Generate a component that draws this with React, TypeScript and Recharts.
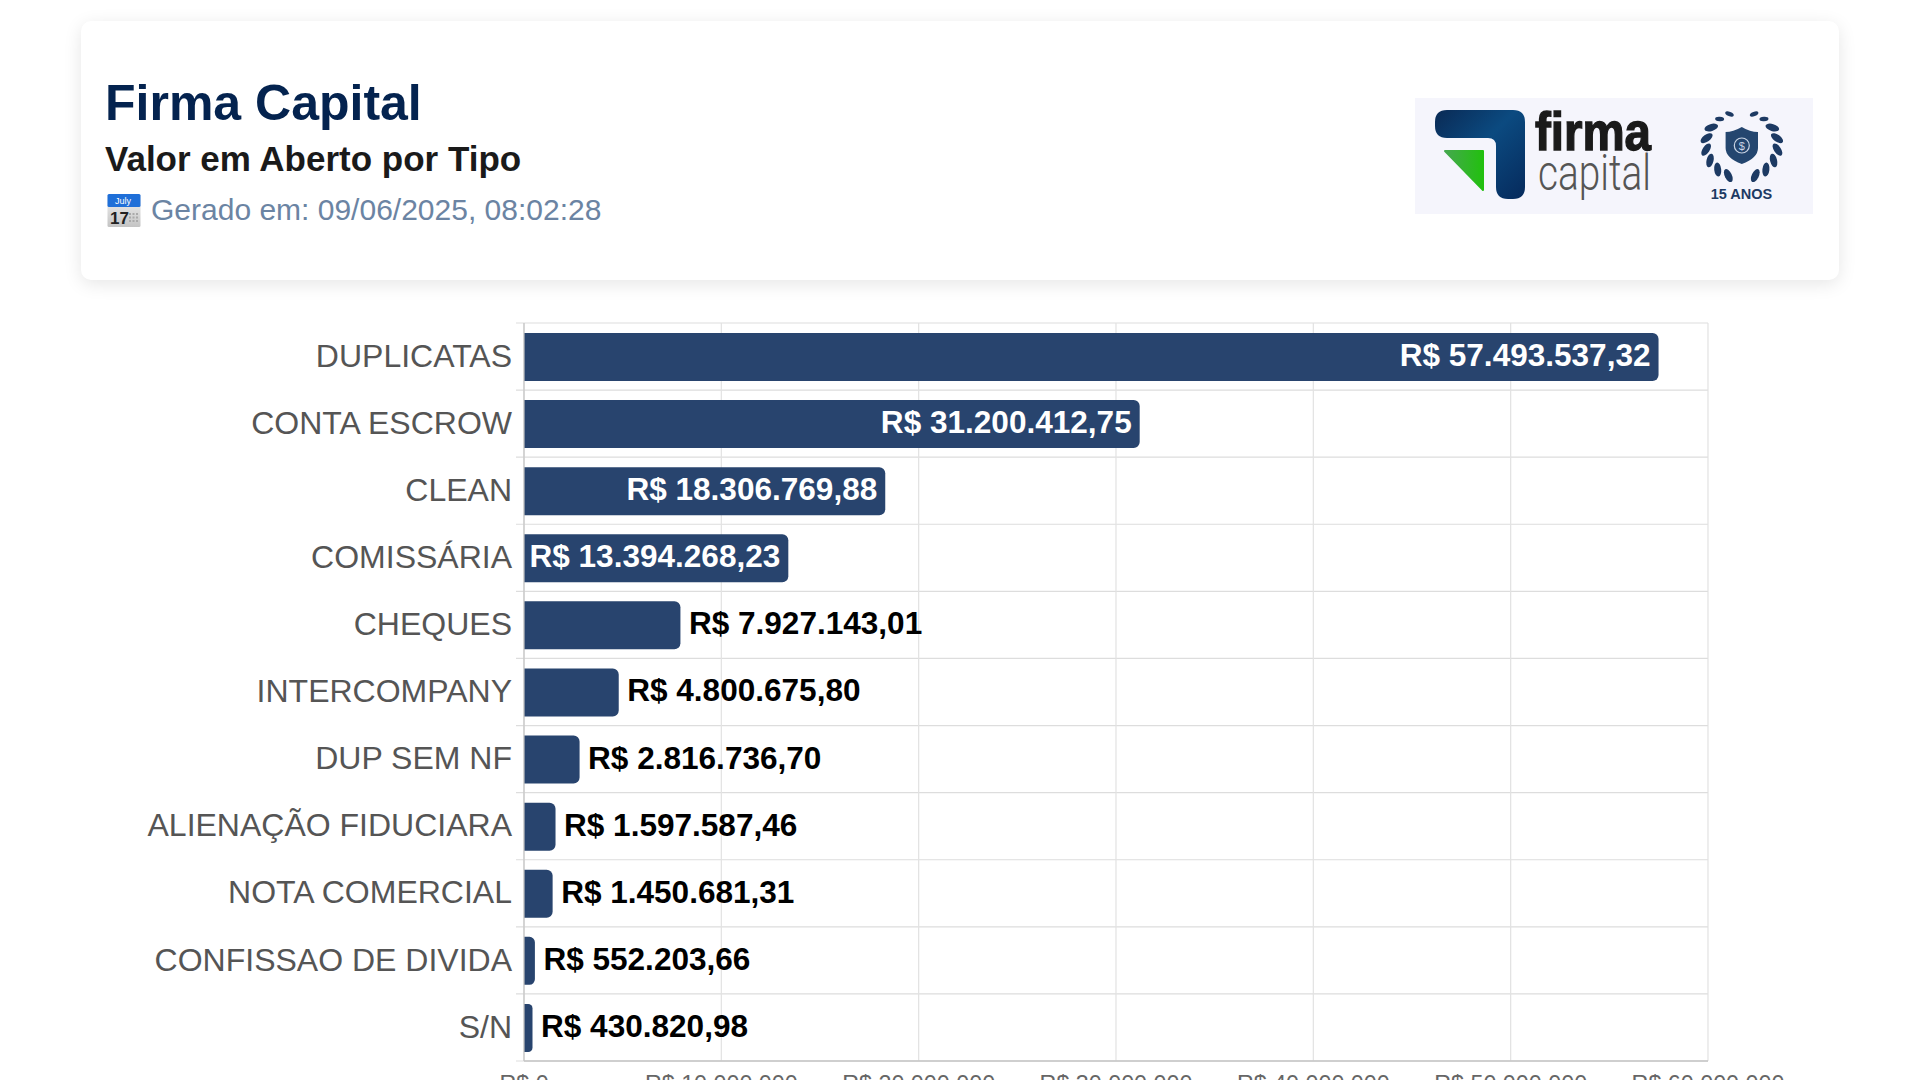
import React from 'react';
import { BarChart, Bar, XAxis, YAxis, CartesianGrid, LabelList } from 'recharts';

const categorias = [
  'DUPLICATAS',
  'CONTA ESCROW',
  'CLEAN',
  'COMISSÁRIA',
  'CHEQUES',
  'INTERCOMPANY',
  'DUP SEM NF',
  'ALIENAÇÃO FIDUCIARA',
  'NOTA COMERCIAL',
  'CONFISSAO DE DIVIDA',
  'S/N',
];
const valores = [
  57493537.32, 31200412.75, 18306769.88, 13394268.23, 7927143.01, 4800675.8, 2816736.7, 1597587.46, 1450681.31,
  552203.66, 430820.98,
];
const ticksX = [0, 10000000, 20000000, 30000000, 40000000, 50000000, 60000000];

const dados = categorias.map((tipo, i) => ({ tipo, valor: valores[i] }));

const FONTE = '"Liberation Sans", Arial, sans-serif';
const AZUL = '#28446e';

const milhar = (s: string) => s.replace(/\B(?=(\d{3})+(?!\d))/g, '.');
const formataEixo = (v: number) => `R$ ${milhar(String(v))}`;
const formataValor = (v: number) => {
  const [int, dec] = v.toFixed(2).split('.');
  return `R$ ${milhar(int)},${dec}`;
};

// barras grandes levam o rótulo por dentro, as pequenas por fora
const RotuloValor = (props: any) => {
  const { x, y, width, height, value } = props;
  const dentro = value > 10000000;
  return (
    <text
      x={dentro ? x + width - 8 : x + width + 8.5}
      y={y + height / 2 + 9}
      textAnchor={dentro ? 'end' : 'start'}
      fontFamily={FONTE}
      fontSize={31.55}
      fontWeight={700}
      fill={dentro ? '#ffffff' : '#000000'}
    >
      {formataValor(value)}
    </text>
  );
};

// linhas horizontais nos limites das categorias, com a marca à esquerda do eixo
const linhaHorizontal = (props: any) => (
  <line key={props.key} x1={props.x1 - 8} x2={props.x2} y1={props.y1} y2={props.y2} stroke="#dddddd" strokeWidth={1.2} />
);

const Calendario = () => (
  <svg width={34} height={34} style={{ position: 'absolute', left: 107, top: 194 }}>
    <defs>
      <linearGradient id="cinzaCal" x1="0" y1="0" x2="0" y2="1">
        <stop offset="0" stopColor="#f4f4f4" />
        <stop offset="1" stopColor="#c4c4c4" />
      </linearGradient>
    </defs>
    <rect x={0.5} y={0} width={33} height={33} rx={1.5} fill="url(#cinzaCal)" />
    <rect x={0.5} y={0} width={33} height={13} rx={1.5} fill="#1f6fd8" />
    <text x={16} y={10} textAnchor="middle" fontFamily={FONTE} fontSize={9} fill="#fff">July</text>
    <text x={3} y={30} fontFamily={FONTE} fontSize={17} fontWeight={700} fill="#222">17</text>
    {[0, 1, 2].map((c) =>
      [0, 1, 2].map((l) => <rect key={`${c}${l}`} x={22 + c * 3.5} y={19 + l * 3.5} width={2} height={2} fill="#aaa" />),
    )}
  </svg>
);

const angulosLouro = [248, 228, 208, 188, 168, 148, 128, 110];

const Ramo = () => (
  <>
    {angulosLouro.map((a, i) => {
      const r = (a * Math.PI) / 180;
      const cx = 326.8 + 36 * Math.cos(r);
      const cy = 47 - 33 * Math.sin(r);
      const tam = i > 5 ? 4.5 : 7;
      return (
        <ellipse key={a} cx={cx} cy={cy} rx={tam} ry={tam * 0.5}
          transform={`rotate(${90 - a + 42} ${cx} ${cy})`} fill="#1d3a63" />
      );
    })}
  </>
);

const Logo = () => (
  <svg width={398} height={116} style={{ position: 'absolute', left: 1415, top: 98 }}>
    <defs>
      <linearGradient id="azulLogo" x1="0" y1="0" x2="1" y2="1">
        <stop offset="0" stopColor="#0a2a55" />
        <stop offset="0.45" stopColor="#0b4a80" />
        <stop offset="1" stopColor="#062a5c" />
      </linearGradient>
      <linearGradient id="verdeLogo" x1="0" y1="0" x2="1" y2="0">
        <stop offset="0" stopColor="#45a84e" />
        <stop offset="1" stopColor="#22c00f" />
      </linearGradient>
    </defs>
    <rect width={398} height={116} fill="#f5f5fc" />
    <path
      d="M20,24 Q20,12 32,12 H98 Q110,12 110,24 V89 Q110,101 98,101 H93 Q81,101 81,89 V48 Q81,40 73,40 H32 Q20,40 20,28 Z"
      fill="url(#azulLogo)"
    />
    <path d="M30,53 H68 V92 Z" fill="url(#verdeLogo)" stroke="url(#verdeLogo)" strokeWidth={2} strokeLinejoin="round" />
    <text x={120} y={52} fontFamily='"Liberation Sans Narrow", "Liberation Sans", sans-serif' fontWeight={700} fontSize={54}
      textLength={116} lengthAdjust="spacingAndGlyphs" fill="#1a1a1a" stroke="#1a1a1a" strokeWidth={1.4}>firma</text>
    <text x={123} y={91.5} fontFamily='Roboto, sans-serif' fontWeight={300} fontSize={50}
      textLength={113} lengthAdjust="spacingAndGlyphs" fill="#555">capital</text>
    <Ramo />
    <g transform="translate(653.6 0) scale(-1 1)">
      <Ramo />
    </g>
    <path d="M326.8,29 Q335,34 343,34 V50 Q343,60 326.8,66 Q310.6,60 310.6,50 V34 Q318,34 326.8,29 Z" fill="#24466f" />
    <circle cx={326.8} cy={47.5} r={7.5} fill="none" stroke="#c9d4e4" strokeWidth={1.2} />
    <text x={326.8} y={52} textAnchor="middle" fontFamily={FONTE} fontSize={11} fill="#c9d4e4">$</text>
    <text x={326.5} y={100.5} textAnchor="middle" fontFamily={FONTE} fontSize={14.5} fontWeight={700} fill="#1d3a63">15 ANOS</text>
  </svg>
);

export default function App() {
  return (
    <div style={{ position: 'fixed', left: 0, top: 0, width: 1920, height: 1080, overflow: 'hidden', background: '#fff', fontFamily: FONTE }}>
      <div
        style={{
          position: 'absolute', left: 81, top: 21, width: 1758, height: 259, background: '#fff', borderRadius: 10,
          boxShadow: '0 4px 18px rgba(0,0,0,0.10)',
        }}
      />
      <div style={{ position: 'absolute', left: 105, top: 78, fontSize: 50, lineHeight: 1, fontWeight: 700, color: '#04234f', whiteSpace: 'nowrap' }}>
        Firma Capital
      </div>
      <div style={{ position: 'absolute', left: 105, top: 140.5, fontSize: 35, lineHeight: 1, fontWeight: 700, color: '#1a1a1a', whiteSpace: 'nowrap' }}>
        Valor em Aberto por Tipo
      </div>
      <Calendario />
      <div style={{ position: 'absolute', left: 151, top: 195, fontSize: 30, lineHeight: 1, color: '#6b84a3', whiteSpace: 'nowrap' }}>
        Gerado em: 09/06/2025, 08:02:28
      </div>
      <Logo />

      <div style={{ position: 'absolute', left: 0, top: 300 }}>
        <BarChart
          width={1920}
          height={821}
          data={dados}
          layout="vertical"
          margin={{ top: 23, right: 212, bottom: 0, left: 0 }}
        >
          <CartesianGrid
            stroke="#e2e2e2"
            strokeWidth={1.2}
            horizontal={linhaHorizontal}
            horizontalCoordinatesGenerator={({ offset }: any) =>
              [...categorias, ''].map((_, i) => offset.top + (i * offset.height) / categorias.length)
            }
          />
          <XAxis
            type="number"
            domain={[0, 60000000]}
            ticks={ticksX}
            tickFormatter={formataEixo}
            height={60}
            interval={0}
            tickLine={false}
            axisLine={{ stroke: '#c4c4c4', strokeWidth: 1.5 }}
            tick={{ fontFamily: FONTE, fontSize: 23.3, fill: '#666666' }}
            tickMargin={8}
          />
          <YAxis
            type="category"
            dataKey="tipo"
            width={524}
            interval={0}
            tickLine={false}
            axisLine={{ stroke: '#c4c4c4', strokeWidth: 1.2 }}
            tick={{ fontFamily: FONTE, fontSize: 32, fill: '#555555', dy: -1.2 }}
            tickMargin={6}
          />
          <Bar dataKey="valor" fill={AZUL} barSize={48} radius={[0, 6, 6, 0]} isAnimationActive={false}>
            <LabelList dataKey="valor" content={RotuloValor} />
          </Bar>
        </BarChart>
      </div>
    </div>
  );
}
